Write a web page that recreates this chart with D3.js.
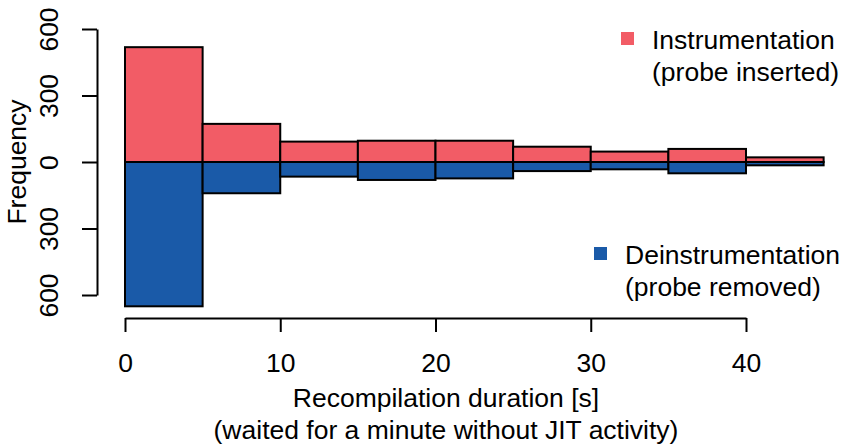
<!DOCTYPE html>
<html>
<head>
<meta charset="utf-8">
<script src="https://cdn.jsdelivr.net/npm/d3@7"></script>
<style>
  body { margin: 0; background: #fff; }
  text { font-family: "Liberation Sans", Arial, sans-serif; fill: #000; }
</style>
</head>
<body>
<div id="chart"></div>
<script>
// bin edges (seconds) and counts per bin
var binStarts = [0, 5, 10, 15, 20, 25, 30, 35, 40];
var binWidth = 5;
var instrCounts = [518, 172, 92, 96, 96, 69, 47, 59, 21];
var deinstrCounts = [651, 141, 66, 81, 74, 41, 33, 51, 15];
var xTicks = [0, 10, 20, 30, 40];
var yTicks = [-600, -300, 0, 300, 600];

var W = 843, H = 444;
var fontSize = 26.5;
var red = "#f25c66", blue = "#1a5aa8";

var svg = d3.select("#chart").append("svg")
    .attr("width", W).attr("height", H);

var x = d3.scaleLinear().domain([0, 40]).range([125, 746]);
var y = d3.scaleLinear().domain([-600, 600]).range([295, 29]);

// instrumentation bars (above zero)
svg.selectAll("rect.instr")
    .data(binStarts)
    .enter().append("rect")
    .attr("class", "instr")
    .attr("x", function(d) { return x(d); })
    .attr("width", function(d) { return x(d + binWidth) - x(d); })
    .attr("y", function(d, i) { return y(instrCounts[i]); })
    .attr("height", function(d, i) { return y(0) - y(instrCounts[i]); })
    .attr("fill", red).attr("stroke", "#000").attr("stroke-width", 2);

// deinstrumentation bars (below zero)
svg.selectAll("rect.deinstr")
    .data(binStarts)
    .enter().append("rect")
    .attr("class", "deinstr")
    .attr("x", function(d) { return x(d); })
    .attr("width", function(d) { return x(d + binWidth) - x(d); })
    .attr("y", y(0))
    .attr("height", function(d, i) { return y(-deinstrCounts[i]) - y(0); })
    .attr("fill", blue).attr("stroke", "#000").attr("stroke-width", 2);

// x axis
var xAxis = svg.append("g")
    .attr("transform", "translate(0,318)")
    .call(d3.axisBottom(x).tickValues(xTicks).tickSize(14).tickPadding(21).tickSizeOuter(0));
xAxis.select(".domain").attr("stroke-width", 2);
xAxis.selectAll(".tick line").attr("stroke-width", 2);
xAxis.selectAll("text").style("font-size", fontSize + "px")
    .attr("font-family", null).attr("fill", "#000");

// y axis (absolute values shown both ways)
var yAxis = svg.append("g")
    .attr("transform", "translate(97,0)")
    .call(d3.axisLeft(y).tickValues(yTicks).tickSize(15).tickSizeOuter(0)
        .tickFormat(function(d) { return Math.abs(d); }));
yAxis.select(".domain").attr("stroke-width", 2);
yAxis.selectAll(".tick line").attr("stroke-width", 2);
yAxis.selectAll("text")
    .style("font-size", fontSize + "px")
    .attr("font-family", null).attr("fill", "#000")
    .attr("x", null).attr("dy", null)
    .attr("text-anchor", "middle")
    .attr("transform", "translate(-39,0) rotate(-90)");

// axis titles
svg.append("text")
    .attr("transform", "translate(26,162) rotate(-90)")
    .attr("text-anchor", "middle")
    .style("font-size", fontSize + "px")
    .text("Frequency");

svg.append("text")
    .attr("x", 446).attr("y", 407)
    .attr("text-anchor", "middle")
    .style("font-size", fontSize + "px")
    .text("Recompilation duration [s]");

svg.append("text")
    .attr("x", 446).attr("y", 439)
    .attr("text-anchor", "middle")
    .style("font-size", fontSize + "px")
    .text("(waited for a minute without JIT activity)");

// legends
var legends = [
    { color: red, lines: ["Instrumentation", "(probe inserted)"], sx: 621, tx: 652, y: 49 },
    { color: blue, lines: ["Deinstrumentation", "(probe removed)"], sx: 594, tx: 625, y: 264 }
];
legends.forEach(function(l) {
    svg.append("rect")
        .attr("x", l.sx).attr("y", l.y - 17)
        .attr("width", 13).attr("height", 13)
        .attr("fill", l.color);
    l.lines.forEach(function(t, i) {
        svg.append("text")
            .attr("x", l.tx).attr("y", l.y + i * 32)
            .style("font-size", fontSize + "px")
            .text(t);
    });
});
</script>
</body>
</html>
